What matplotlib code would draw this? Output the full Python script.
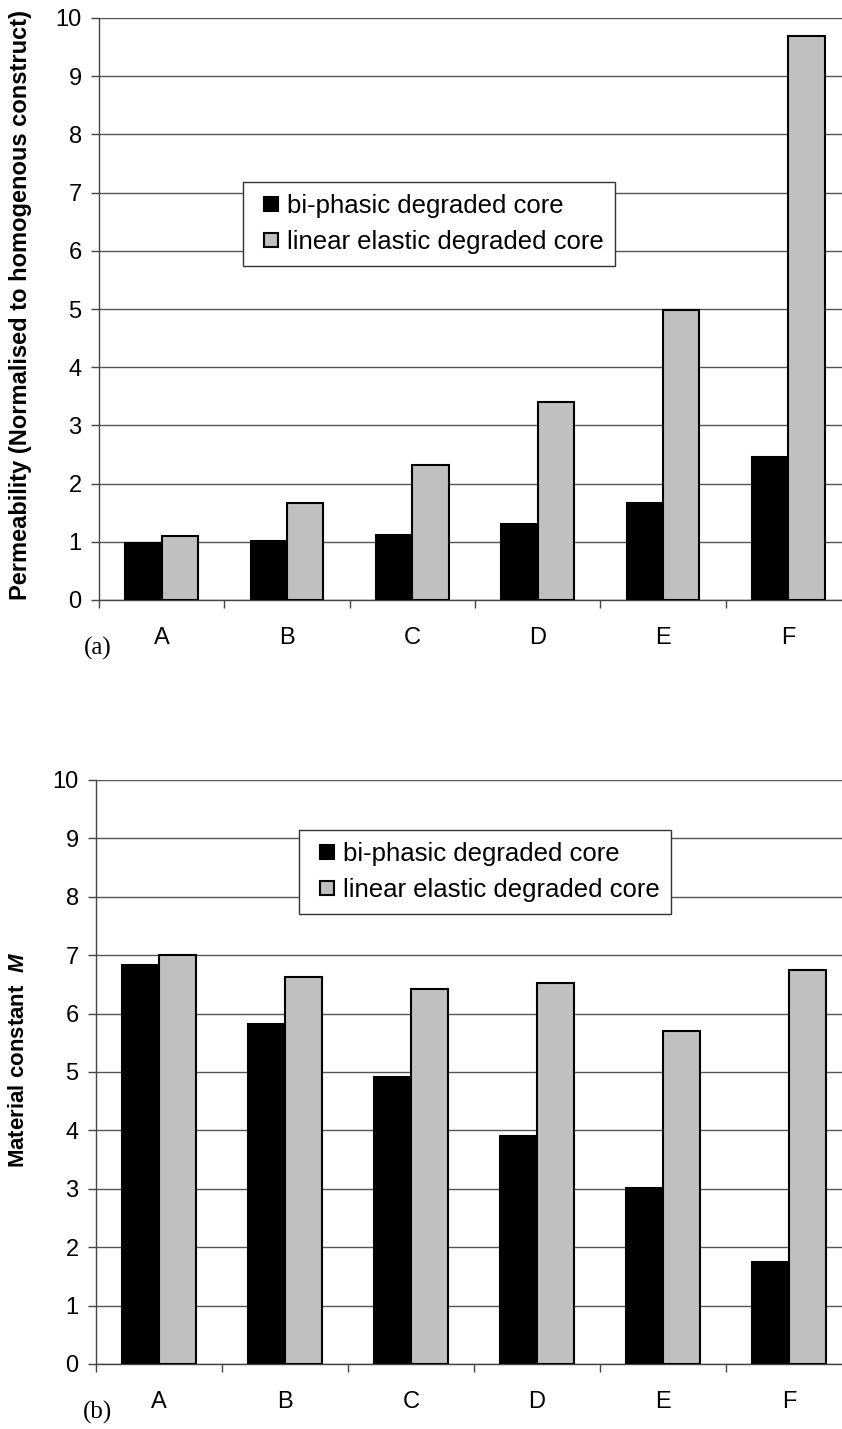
import matplotlib
matplotlib.use("Agg")
import matplotlib.pyplot as plt
import numpy as np
from matplotlib.patches import Rectangle
from matplotlib.legend_handler import HandlerPatch

plt.rcParams['font.family'] = ['Liberation Sans', 'DejaVu Sans']
plt.rcParams['mathtext.fontset'] = 'custom'
plt.rcParams['mathtext.bfit'] = 'Liberation Sans:italic:bold'
plt.rcParams['mathtext.rm'] = 'Liberation Sans'

categories = ['A', 'B', 'C', 'D', 'E', 'F']
series_names = ['bi-phasic degraded core', 'linear elastic degraded core']

# (a) permeability, normalised to homogenous construct
perm_biphasic = [0.98, 1.02, 1.12, 1.31, 1.66, 2.45]
perm_linear = [1.10, 1.66, 2.32, 3.40, 4.99, 9.69]

# (b) material constant M
m_biphasic = [6.84, 5.82, 4.91, 3.91, 3.02, 1.74]
m_linear = [7.00, 6.63, 6.42, 6.53, 5.71, 6.74]

W, H = 842, 1429
fig = plt.figure(figsize=(W / 100, H / 100), dpi=100)


def small_square(legend, orig_handle, xdescent, ydescent, width, height, fontsize):
    # small square sitting at the right end of the handle box
    s = 0.55 * fontsize
    return Rectangle((width - s - xdescent, (height - s) / 2 - ydescent), s, s)


def draw_panel(rect, biphasic, linear, ylabel, ylabel_xy, ylabel_size, panel_tag, legend_xy):
    ax = fig.add_axes(rect)
    x = np.arange(len(categories))
    bw = 0.29
    b1 = ax.bar(x - bw / 2, biphasic, bw, color='black', edgecolor='black',
                linewidth=1.5, zorder=3)
    b2 = ax.bar(x + bw / 2, linear, bw, color='#c0c0c0', edgecolor='black',
                linewidth=1.5, zorder=3)
    ax.set_xlim(-0.5, len(categories) - 0.5)
    ax.set_ylim(0, 10)
    ax.set_yticks(range(0, 11))
    ax.yaxis.grid(True, color='#555555', linewidth=1.0, zorder=0)
    ax.set_xticks(x)
    ax.set_xticklabels(categories, fontsize=17)
    ax.set_xticks(np.arange(len(categories) + 1) - 0.5, minor=True)
    ax.tick_params(axis='x', which='major', length=0, pad=19.5)
    ax.tick_params(axis='x', which='minor', length=6, width=1, color='#444444', direction='out')
    ax.tick_params(axis='y', length=5.5, width=1, color='#444444', labelsize=17, pad=7)
    for s in ['top', 'right']:
        ax.spines[s].set_visible(False)
    for s in ['left', 'bottom']:
        ax.spines[s].set_color('#444444')
        ax.spines[s].set_linewidth(1.0)
    fig.text(ylabel_xy[0] / W, 1 - ylabel_xy[1] / H, ylabel, rotation=90,
             fontsize=ylabel_size, fontweight='bold', ha='center', va='center')
    leg = fig.legend(handles=[b1.patches[0], b2.patches[0]], labels=series_names,
                     loc='upper left',
                     bbox_to_anchor=(legend_xy[0] / W, 1 - legend_xy[1] / H),
                     fontsize=18.5, frameon=True, fancybox=False, framealpha=1,
                     edgecolor='#333333', handlelength=0.9, handleheight=0.7,
                     handletextpad=0.35, labelspacing=0.5, borderpad=0.45,
                     borderaxespad=0,
                     handler_map={Rectangle: HandlerPatch(patch_func=small_square)})
    leg.get_frame().set_linewidth(1.0)
    fig.text(panel_tag[1] / W, 1 - panel_tag[2] / H, panel_tag[0],
             family='Liberation Serif', fontsize=18, ha='center', va='center')
    return ax


draw_panel([99 / W, 1 - 600 / H, 752 / W, 582 / H], perm_biphasic, perm_linear,
           'Permeability (Normalised to homogenous construct)', (21, 305), 17,
           ('(a)', 98, 648), (243, 182))
draw_panel([96 / W, 1 - 1364 / H, 756 / W, 584 / H], m_biphasic, m_linear,
           r'Material constant  $\mathbfit{M}$', (19, 1060), 16,
           ('(b)', 98, 1412), (299, 830))

fig.savefig('out.png', dpi=100)
